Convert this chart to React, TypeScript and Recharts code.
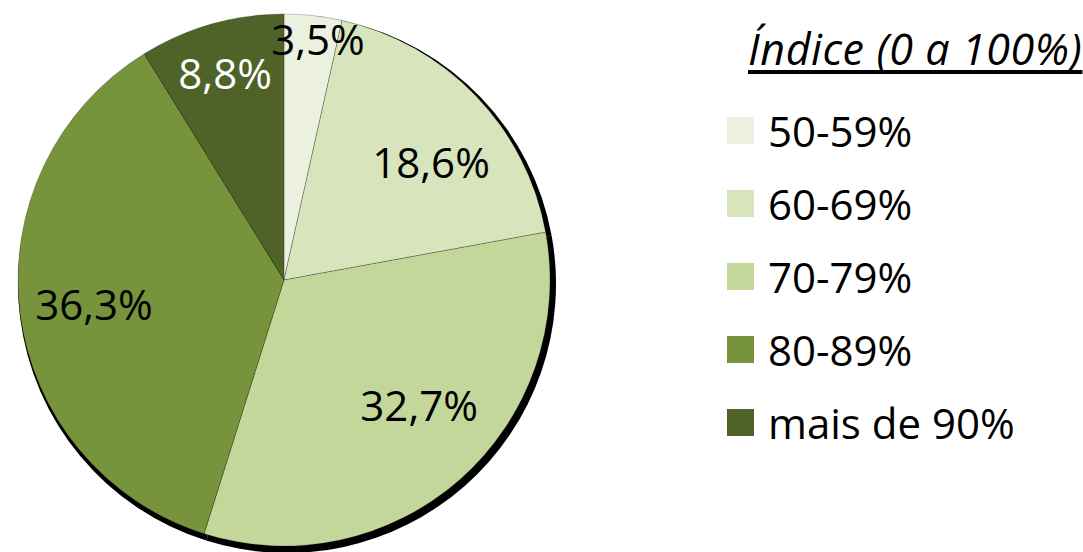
import { Cell, Legend, Pie, PieChart } from "recharts";

const categories = ["50-59%", "60-69%", "70-79%", "80-89%", "mais de 90%"];
const shares = [3.5, 18.6, 32.7, 36.3, 8.8];
const colors = ["#EBF1DE", "#D8E4BC", "#C4D79B", "#77933C", "#4F6228"];
const legendTitle = "Índice (0 a 100%)";

// label placement tweaks (fraction of radius, angle nudge in degrees) to mimic Excel "best fit"
const labelRadius = [0.917, 0.71, 0.69, 0.72, 0.81];
const labelNudge = [-1.7, -5, 6, 0, 0];
const labelFill = ["#000", "#000", "#000", "#000", "#fff"];

const FONT = "'Open Sans', 'Noto Sans', sans-serif";
const RADIAN = Math.PI / 180;

const data = categories.map((name, i) => ({ name, value: shares[i] }));

const renderLabel = (props: any) => {
    const { cx, cy, midAngle, outerRadius, index, value } = props;
    const r = outerRadius * labelRadius[index];
    const a = (midAngle + labelNudge[index]) * RADIAN;
    const x = cx + r * Math.cos(-a);
    const y = cy + r * Math.sin(-a);
    return (
        <text x={x} y={y} fill={labelFill[index]} textAnchor="middle" dominantBaseline="central"
              style={{ fontFamily: FONT, fontSize: 42 }}>
            {value.toFixed(1).replace(".", ",")}%
        </text>
    );
};

const renderLegend = () => (
    <div style={{ fontFamily: FONT, color: "#000" }}>
        <div style={{ fontSize: 43, fontStyle: "italic", textDecoration: "underline", textDecorationThickness: 4,
            textDecorationSkipInk: "none", textUnderlineOffset: 5, lineHeight: "46px", marginLeft: 21,
            marginTop: 6, whiteSpace: "nowrap", letterSpacing: 0.6 }}>
            {legendTitle}
        </div>
        <div style={{ marginTop: 22 }}>
            {categories.map((c, i) => (
                <div key={c} style={{ display: "flex", alignItems: "center", height: 73, whiteSpace: "nowrap" }}>
                    <span style={{ display: "inline-block", width: 27, height: 27, background: colors[i], marginRight: 14 }} />
                    <span style={{ fontSize: 42 }}>{c}</span>
                </div>
            ))}
        </div>
    </div>
);

export default function App() {
    return (
        <div style={{ position: "absolute", left: 0, top: 0, width: 1083, height: 552, background: "#fff" }}>
            <PieChart width={1083} height={552} margin={{ top: 0, right: 0, bottom: 0, left: 0 }}>
                {/* shadow ring */}
                <Pie data={data} dataKey="value" cx={287} cy={284} outerRadius={269} startAngle={90} endAngle={-270}
                     isAnimationActive={false} stroke="none" legendType="none">
                    {data.map((d) => <Cell key={d.name} fill="#000" />)}
                </Pie>
                <Pie data={data} dataKey="value" cx={284} cy={280} outerRadius={266} startAngle={90} endAngle={-270}
                     isAnimationActive={false} stroke="rgba(0,0,0,0.3)" strokeWidth={0.7}
                     label={renderLabel} labelLine={false}>
                    {data.map((d, i) => <Cell key={d.name} fill={colors[i]} />)}
                </Pie>
                <Legend content={renderLegend} layout="vertical" verticalAlign="top" align="right"
                        wrapperStyle={{ left: 727, top: 20, width: 356 }} />
            </PieChart>
        </div>
    );
}
